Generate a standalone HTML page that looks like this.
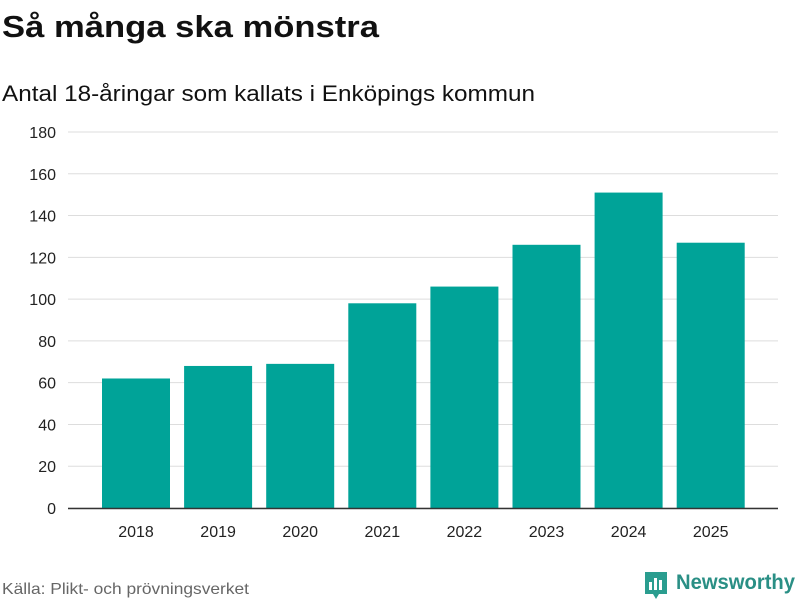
<!DOCTYPE html>
<html><head><meta charset="utf-8"><style>
body{margin:0;width:800px;height:600px;background:#fff;font-family:"Liberation Sans",sans-serif;overflow:hidden}
</style></head><body>
<svg width="800" height="600" xmlns="http://www.w3.org/2000/svg">
<text x="2" y="37" font-size="31" font-weight="bold" fill="#111" textLength="377" lengthAdjust="spacingAndGlyphs">Så många ska mönstra</text>
<text x="2" y="101" font-size="22" fill="#111" textLength="533" lengthAdjust="spacingAndGlyphs">Antal 18-åringar som kallats i Enköpings kommun</text>
<g id="grid"></g><g id="bars"></g><g id="xl"></g>
<line x1="68" x2="778" y1="508.5" y2="508.5" stroke="#333" stroke-width="1.5"/>
<text x="2" y="594" font-size="16" fill="#666" textLength="247" lengthAdjust="spacingAndGlyphs">Källa: Plikt- och prövningsverket</text>
<g>
<path d="M645 572h22v22h-8l-3 5-3-5h-8z" fill="#2a9d8f"/>
<rect x="649" y="582" width="3" height="8" fill="#fff"/><rect x="654" y="578" width="3" height="12" fill="#fff"/><rect x="659" y="580" width="3" height="10" fill="#fff"/>
<text x="676" y="589" font-size="21" font-weight="bold" fill="#2a8f85" textLength="119" lengthAdjust="spacingAndGlyphs">Newsworthy</text>
</g>
</svg>
<script>
const years=["2018","2019","2020","2021","2022","2023","2024","2025"];
const values=[62,68,69,98,106,126,151,127];
const ticks=[0,20,40,60,80,100,120,140,160,180];
const NS="http://www.w3.org/2000/svg";
function y(v){return 508-v*376/180;}
function x(i){return 136+i*82.1;}
const g=document.getElementById('grid'),b=document.getElementById('bars'),xl=document.getElementById('xl');
ticks.forEach(t=>{
 const l=document.createElementNS(NS,'line');
 l.setAttribute('x1',68);l.setAttribute('x2',778);l.setAttribute('y1',y(t));l.setAttribute('y2',y(t));
 l.setAttribute('stroke','#ddd');
 
 
 g.appendChild(l);
 const tx=document.createElementNS(NS,'text');
 tx.setAttribute('x',56);tx.setAttribute('y',y(t)+6);tx.setAttribute('text-anchor','end');tx.setAttribute('font-size','16');tx.setAttribute('fill','#222');
 tx.textContent=t;
 
 
 g.appendChild(tx);
});
years.forEach((yr,i)=>{
 const r=document.createElementNS(NS,'rect');
 r.setAttribute('x',x(i)-34);r.setAttribute('width',68);r.setAttribute('y',y(values[i]));r.setAttribute('height',508-y(values[i]));
 r.setAttribute('fill','#00a398');
 
 
 b.appendChild(r);
 const tx=document.createElementNS(NS,'text');
 tx.setAttribute('x',x(i));tx.setAttribute('y',537);tx.setAttribute('text-anchor','middle');tx.setAttribute('font-size','16');tx.setAttribute('fill','#222');
 tx.textContent=yr;
 
 
 xl.appendChild(tx);
});
</script>
</body></html>
